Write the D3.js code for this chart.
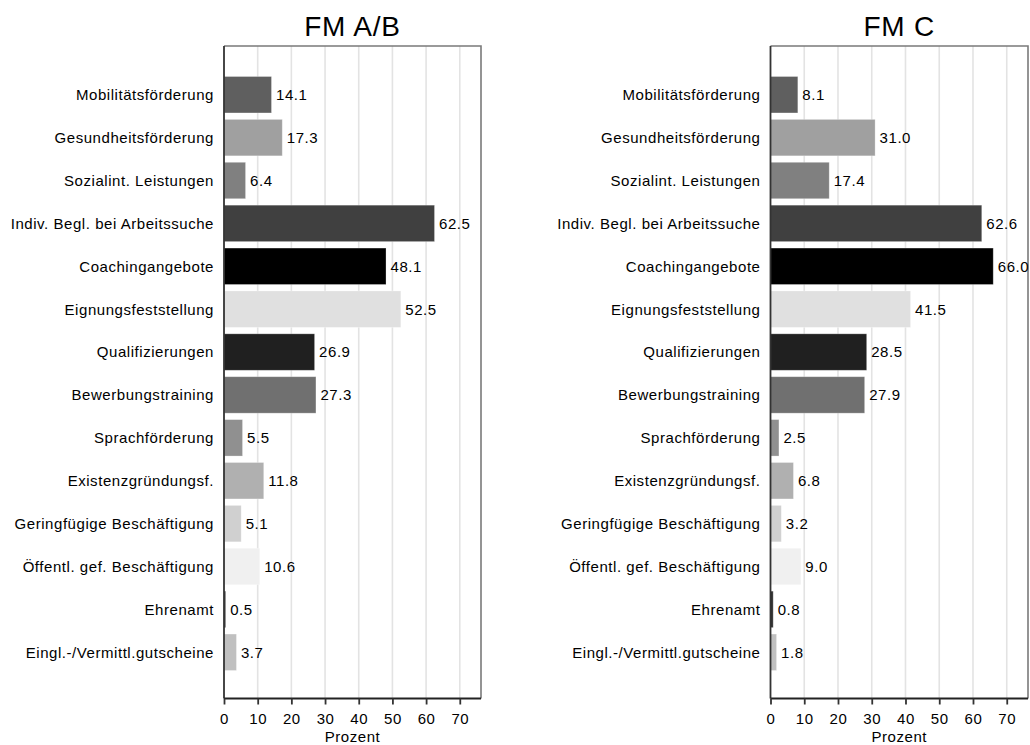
<!DOCTYPE html>
<html>
<head>
<meta charset="utf-8">
<script src="https://cdn.jsdelivr.net/npm/d3@7"></script>
<style>
  html, body { margin: 0; padding: 0; background: #fff; }
  svg { display: block; font-family: "Liberation Sans", Arial, Helvetica, sans-serif; }
</style>
</head>
<body>
<svg id="chart" width="1030" height="745"></svg>
<script>
// ---- data ----
const categories = [
  "Mobilitätsförderung",
  "Gesundheitsförderung",
  "Sozialint. Leistungen",
  "Indiv. Begl. bei Arbeitssuche",
  "Coachingangebote",
  "Eignungsfeststellung",
  "Qualifizierungen",
  "Bewerbungstraining",
  "Sprachförderung",
  "Existenzgründungsf.",
  "Geringfügige Beschäftigung",
  "Öffentl. gef. Beschäftigung",
  "Ehrenamt",
  "Eingl.-/Vermittl.gutscheine"
];
const valuesAB = [14.1, 17.3, 6.4, 62.5, 48.1, 52.5, 26.9, 27.3, 5.5, 11.8, 5.1, 10.6, 0.5, 3.7];
const valuesC  = [8.1, 31.0, 17.4, 62.6, 66.0, 41.5, 28.5, 27.9, 2.5, 6.8, 3.2, 9.0, 0.8, 1.8];
const barColors = ["#5f5f5f", "#a0a0a0", "#808080", "#404040", "#000000", "#e0e0e0", "#202020",
                   "#707070", "#909090", "#b0b0b0", "#d0d0d0", "#f0f0f0", "#303030", "#c0c0c0"];
const tickValues = [0, 10, 20, 30, 40, 50, 60, 70];
const panelTitles = ["FM A/B", "FM C"];
const axisTitle = "Prozent";

// ---- layout ----
const svg = d3.select("#chart");
const plotTop = 46, plotBottom = 698.5;
const fs = 15, ls = 0.55;
const panels = [
  { title: panelTitles[0], values: valuesAB, left: 224, right: 481 },
  { title: panelTitles[1], values: valuesC,  left: 770.5, right: 1028 }
];

const y = d3.scaleBand()
  .domain(categories)
  .range([73.5, 673.5])
  .paddingInner(0.15)
  .paddingOuter(0.07);

panels.forEach(p => {
  const x = d3.scaleLinear().domain([0, 76.3]).range([p.left, p.right]);
  const g = svg.append("g");

  // grid
  g.selectAll("line.grid")
    .data(tickValues.filter(t => t > 0))
    .join("line")
    .attr("x1", d => x(d)).attr("x2", d => x(d))
    .attr("y1", plotTop).attr("y2", plotBottom)
    .attr("stroke", "#e3e3e3").attr("stroke-width", 1.6);

  // frame (top & right)
  g.append("path")
    .attr("d", `M${p.left},${plotTop}H${p.right}V${plotBottom}`)
    .attr("fill", "none").attr("stroke", "#7a7a7a").attr("stroke-width", 1.6);

  // bars
  g.selectAll("rect.bar")
    .data(categories)
    .join("rect")
    .attr("x", x(0))
    .attr("y", d => y(d))
    .attr("width", (d, i) => x(p.values[i]) - x(0))
    .attr("height", y.bandwidth())
    .attr("fill", (d, i) => barColors[i])
    .attr("stroke", "#ffffff").attr("stroke-opacity", 0.35).attr("stroke-width", 0.8);

  // value labels
  g.selectAll("text.val")
    .data(categories)
    .join("text")
    .attr("x", (d, i) => x(p.values[i]) + 4.5)
    .attr("y", d => y(d) + y.bandwidth() / 2)
    .attr("dy", "0.36em")
    .attr("font-size", fs)
    .attr("letter-spacing", ls)
    .attr("fill", "#000")
    .text((d, i) => p.values[i].toFixed(1));

  // category labels
  g.selectAll("text.cat")
    .data(categories)
    .join("text")
    .attr("x", p.left - 10)
    .attr("y", d => y(d) + y.bandwidth() / 2)
    .attr("dy", "0.36em")
    .attr("text-anchor", "end")
    .attr("font-size", fs)
    .attr("letter-spacing", ls)
    .attr("fill", "#000")
    .text(d => d);

  // left axis line
  g.append("line")
    .attr("x1", p.left).attr("x2", p.left)
    .attr("y1", plotTop).attr("y2", plotBottom)
    .attr("stroke", "#333").attr("stroke-width", 1.8);

  // bottom axis
  const ax = g.append("g")
    .attr("transform", `translate(0,${plotBottom})`)
    .call(d3.axisBottom(x).tickValues(tickValues).tickSize(6).tickPadding(9).tickSizeOuter(0));
  ax.select(".domain").attr("stroke", "#222").attr("stroke-width", 2)
    .attr("d", `M${p.left},0H${p.right}`);
  ax.selectAll(".tick line").attr("stroke", "#333").attr("stroke-width", 1.8);
  ax.selectAll(".tick text").attr("font-size", fs).attr("fill", "#000")
    .attr("letter-spacing", ls)
    .attr("font-family", "\"Liberation Sans\", Arial, sans-serif");

  // axis title
  g.append("text")
    .attr("x", (p.left + p.right) / 2).attr("y", 742)
    .attr("text-anchor", "middle")
    .attr("font-size", fs)
    .attr("letter-spacing", ls)
    .text(axisTitle);

  // panel title
  g.append("text")
    .attr("x", (p.left + p.right) / 2).attr("y", 36)
    .attr("text-anchor", "middle")
    .attr("font-size", 28)
    .attr("letter-spacing", 0.8)
    .text(p.title);
});
</script>
</body>
</html>
